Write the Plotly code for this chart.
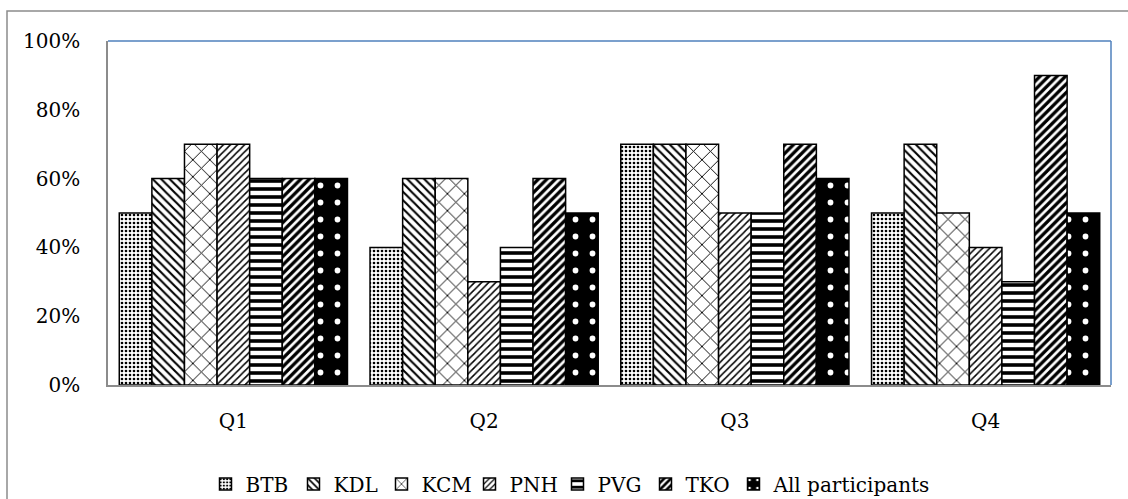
import plotly.graph_objects as go

# Survey questions on the category axis
questions = ["Q1", "Q2", "Q3", "Q4"]

# Share of respondents per site (percent)
btb = [50, 40, 70, 50]
kdl = [60, 60, 70, 70]
kcm = [70, 60, 70, 50]
pnh = [70, 30, 50, 40]
pvg = [60, 40, 50, 30]
tko = [60, 60, 70, 90]
all_participants = [60, 50, 60, 50]

y_ticks = [0, 20, 40, 60, 80, 100]
y_tick_labels = ["0%", "20%", "40%", "60%", "80%", "100%"]

FONT = "DejaVu Serif"
FONT_SIZE = 20

series = [
    ("BTB", btb, dict(shape=".", size=4, solidity=0.35, fgcolor="black", bgcolor="white")),
    ("KDL", kdl, dict(shape="\\", size=6, solidity=0.35, fgcolor="black", bgcolor="white")),
    ("KCM", kcm, dict(shape="x", size=12, solidity=0.15, fgcolor="black", bgcolor="white")),
    ("PNH", pnh, dict(shape="/", size=5, solidity=0.3, fgcolor="black", bgcolor="white")),
    ("PVG", pvg, dict(shape="-", size=8, solidity=0.45, fgcolor="black", bgcolor="white")),
    ("TKO", tko, dict(shape="/", size=6, solidity=0.55, fgcolor="black", bgcolor="white")),
    ("All participants", all_participants,
     dict(shape=".", size=17, solidity=0.09, fgcolor="white", bgcolor="black")),
]

fig = go.Figure()
for name, values, pattern in series:
    fig.add_trace(go.Bar(
        name=name,
        x=questions,
        y=values,
        legendwidth=43 if name != "All participants" else 180,
        marker=dict(
            color=pattern["bgcolor"],
            line=dict(color="black", width=1.5),
            pattern=dict(fillmode="replace", **pattern),
        ),
    ))

# plot area in pixels
L, R, T, B = 108, 1111, 41, 385
W, H = 1128, 499


def px_x(p):
    return (p - L) / (R - L)


def px_y(p):
    return (B - p) / (B - T)


shapes = [
    # outer chart border (right and bottom edges fall outside the page)
    dict(type="rect", xref="paper", yref="paper",
         x0=px_x(7), x1=px_x(1135), y0=px_y(510), y1=px_y(11),
         line=dict(color="#8c8c8c", width=1.5), fillcolor="rgba(0,0,0,0)", layer="below"),
    # top and right edges of the plot frame
    dict(type="line", xref="paper", yref="paper", x0=0, x1=1, y0=1, y1=1,
         line=dict(color="#4f81bd", width=1.5)),
    dict(type="line", xref="paper", yref="paper", x0=1, x1=1, y0=0, y1=1,
         line=dict(color="#4f81bd", width=1.5)),
]

fig.update_layout(
    width=W, height=H,
    margin=dict(l=L, r=W - R, t=T, b=H - B, autoexpand=False),
    paper_bgcolor="white",
    plot_bgcolor="white",
    barmode="group",
    bargap=0.09,
    bargroupgap=0,
    font=dict(family=FONT, size=FONT_SIZE, color="black"),
    shapes=shapes,
    showlegend=True,
    legend=dict(
        orientation="h",
        x=px_x(582), xanchor="center",
        y=px_y(484), yanchor="middle",
        font=dict(family=FONT, size=FONT_SIZE, color="black"),
        itemclick=False,
        traceorder="normal",
    ),
    xaxis=dict(
        showline=True, linecolor="#8c8c8c", linewidth=1.5,
        showgrid=False, ticks="", ticklabelstandoff=17,
        tickfont=dict(family=FONT, size=FONT_SIZE),
    ),
    yaxis=dict(
        range=[0, 100],
        tickvals=y_ticks, ticktext=y_tick_labels,
        showline=True, linecolor="#8c8c8c", linewidth=1.5,
        showgrid=False, zeroline=False, ticks="", ticklabelstandoff=22,
        tickfont=dict(family=FONT, size=FONT_SIZE),
    ),
)

fig.write_html("out.html")
